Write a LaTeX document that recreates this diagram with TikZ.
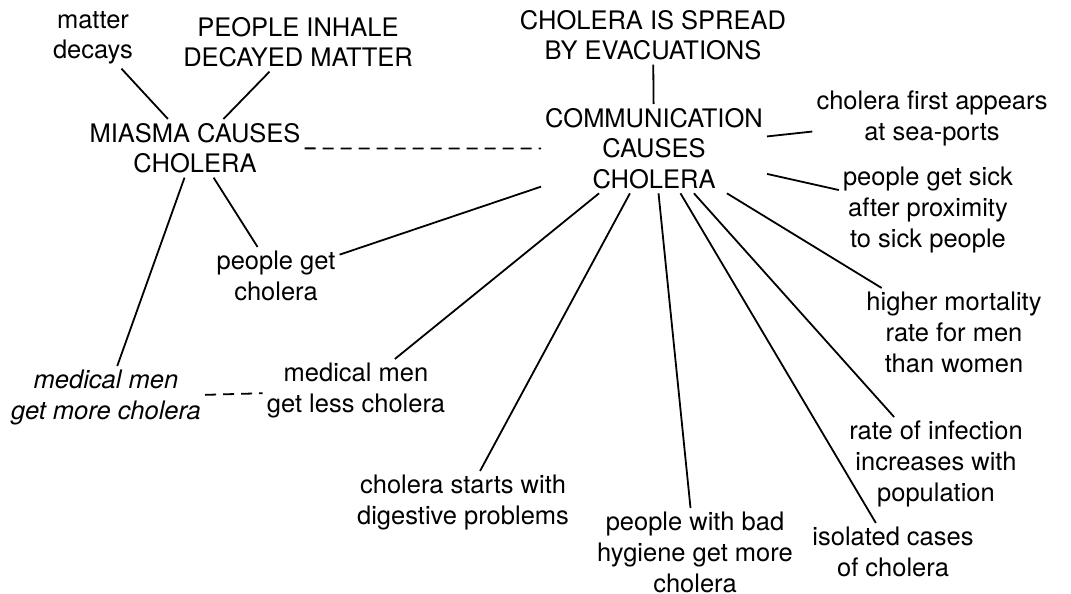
\documentclass[tikz,border=0pt]{standalone}
\usepackage{fontspec}
\setmainfont{TeX Gyre Heros}
\begin{document}
\begin{tikzpicture}[x=1pt,y=-1pt,
  lbl/.style={anchor=north,align=center,inner sep=4pt,font=\fontsize{25.5}{30.7}\selectfont},
  conn/.style={line width=1.8pt},
  dconn/.style={line width=1.8pt,dash pattern=on 11pt off 7pt}]
\useasboundingbox (0,0) rectangle (1071,594);
\node[lbl] (md) at (93,7) {matter\\decays};
\node[lbl] (pi) at (298,13) {PEOPLE INHALE\\DECAYED MATTER};
\node[lbl] (mi) at (195,119) {MIASMA CAUSES\\CHOLERA};
\node[lbl] (pg) at (276,247) {people get\\cholera};
\node[lbl] (sp) at (653,6) {CHOLERA IS SPREAD\\BY EVACUATIONS};
\node[lbl] (co) at (654,104) {COMMUNICATION\\CAUSES\\CHOLERA};
\node[lbl] (fa) at (932,87) {cholera first appears\\at sea-ports};
\node[lbl] (ps) at (928,163) {people get sick\\after proximity\\to sick people};
\node[lbl] (hm) at (954,288) {higher mortality\\rate for men\\than women};
\node[lbl] (ri) at (936,417) {rate of infection\\increases with\\population};
\node[lbl] (ic) at (893,523) {isolated cases\\of cholera};
\node[lbl] (bh) at (695,508) {people with bad\\hygiene get more\\cholera};
\node[lbl] (dp) at (463,471) {cholera starts with\\digestive problems};
\node[lbl] (ml) at (356,359) {medical men\\get less cholera};
\node[lbl,font=\fontsize{25.5}{30.7}\selectfont\itshape] (mm) at (106,366) {medical men\\get more cholera};
\draw[conn] (md) -- (mi);
\draw[conn] (pi) -- (mi);
\draw[conn] (mi) -- (pg);
\draw[conn] (mi) -- (mm);
\draw[dconn] (mi) -- (co);
\draw[dconn] (mm) -- (ml);
\draw[conn] (sp) -- (co);
\draw[conn] (co) -- (pg);
\draw[conn] (co) -- (fa);
\draw[conn] (co) -- (ps);
\draw[conn] (co) -- (hm);
\draw[conn] (co) -- (ri);
\draw[conn] (co) -- (ic);
\draw[conn] (co) -- (bh);
\draw[conn] (co) -- (dp);
\draw[conn] (co) -- (ml);
\end{tikzpicture}
\end{document}
